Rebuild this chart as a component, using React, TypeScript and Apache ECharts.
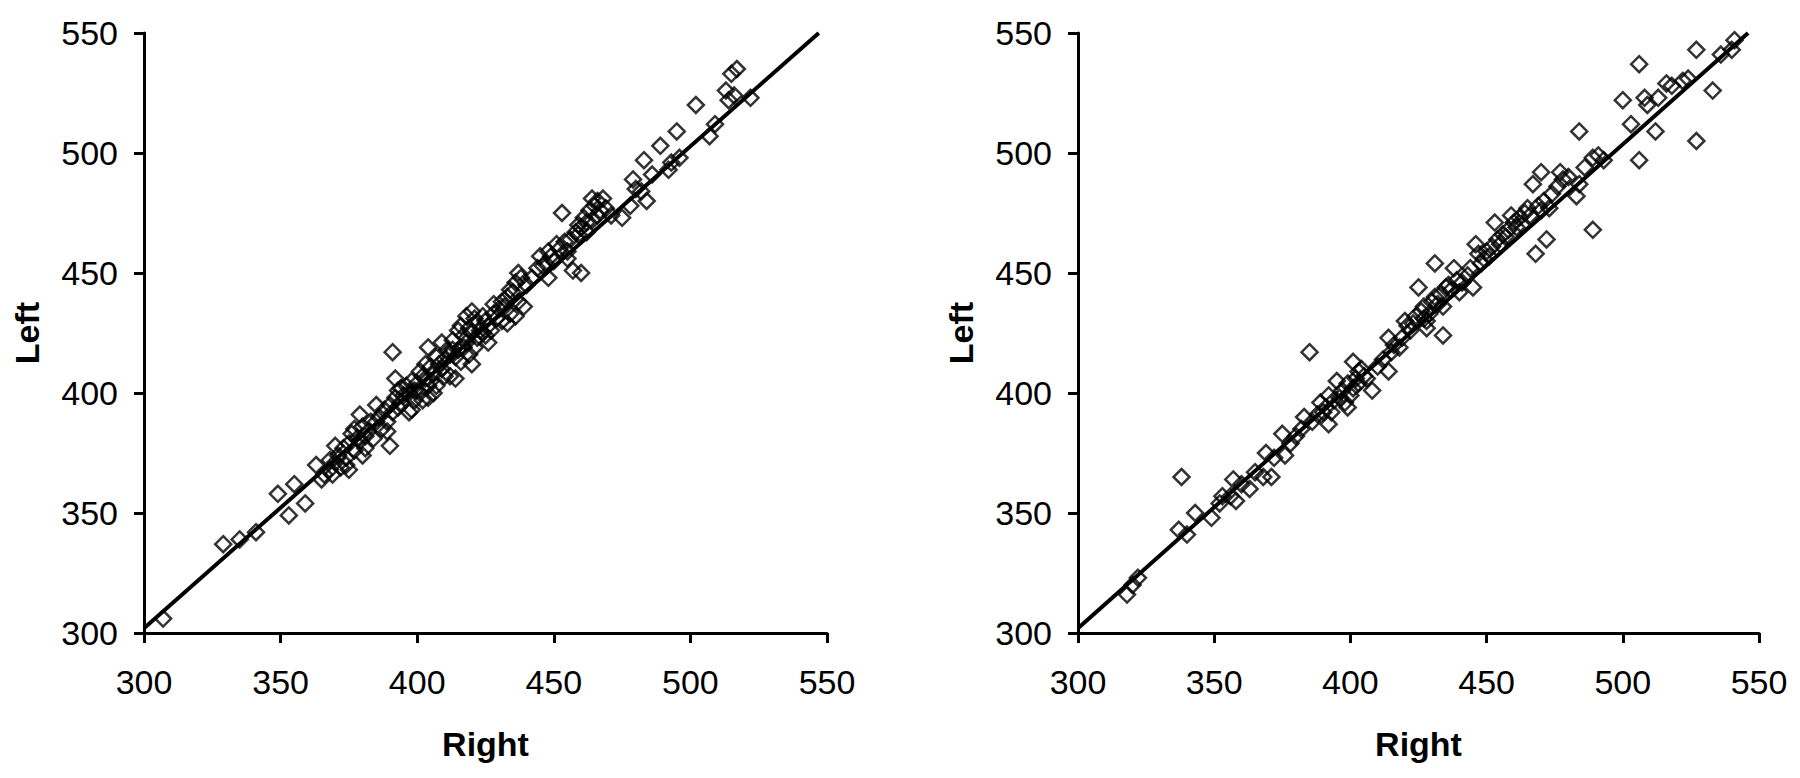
import React, { useEffect, useRef } from "react";
import * as echarts from "echarts";

// Left panel: [Right, Left]
const leftPanelPoints: number[][] = [
  [307,306],[329,337],[335,339],[341,342],[349,358],[353,349],[355,362],[359,354],[363,370],[365,364],
  [368,368],[370,378],[374,373],[375,368],[376,383],[379,391],[381,377],[382,384],[385,395],[387,385],
  [390,378],[391,417],[392,406],[393,394],[395,399],[397,392],[399,401],[401,409],[402,397],[404,403],
  [404,419],[405,411],[407,415],[409,421],[412,407],[414,406],[415,426],[417,419],[418,432],[420,434],
  [420,412],[422,423],[424,432],[426,421],[427,426],[431,438],[433,429],[435,442],[436,432],[437,450],
  [439,436],[444,452],[447,454],[448,448],[451,462],[453,475],[455,456],[457,451],[460,450],[459,466],
  [462,471],[464,481],[466,480],[467,476],[471,474],[475,473],[478,478],[479,489],[484,480],[483,497],
  [489,503],[492,493],[495,509],[496,498],[502,520],[507,507],[513,526],[515,533],[517,535],[516,524],
  [522,523],
  [366,366],[368,372],[370,371],[371,374],[372,369],[373,377],[375,379],[377,376],[378,381],[379,380],
  [380,386],[381,382],[383,388],[384,381],[386,390],[388,393],[389,388],[390,395],[391,392],[392,398],
  [393,401],[394,396],[396,403],[397,400],[398,405],[399,397],[400,404],[401,400],[402,407],[403,406],
  [404,398],[405,405],[406,408],[407,403],[408,412],[409,410],[410,414],[411,418],[412,416],[413,422],
  [414,415],[415,418],[416,413],[417,424],[418,421],[419,427],[420,425],[421,419],[422,429],[423,426],
  [424,425],[425,430],[426,428],[428,433],[429,431],[430,435],[432,436],[433,440],[434,433],[436,446],
  [438,448],[440,445],[442,448],[445,457],[446,453],[448,459],[449,457],[450,455],[452,460],[454,463],
  [455,459],[456,464],[458,467],[459,470],[460,469],[461,473],[462,467],[463,476],[464,472],[465,478],
  [466,474],[468,481],[469,477],[480,485],[482,484],[486,491],[493,496],[509,512],[514,522],
  [369,366],[374,370],[377,385],[380,374],[385,388],[389,384],[394,402],[398,393],[403,412],[406,400],
  [410,407],[413,418],[416,428],[419,416],[421,431],[425,424],[428,437],[431,430],[434,443],[437,438]
];

// Right panel: [Right, Left]
const rightPanelPoints: number[][] = [
  [318,316],[320,320],[337,343],[338,365],[343,350],[349,348],[353,357],[357,364],[358,355],[363,360],
  [368,365],[371,365],[369,375],[375,383],[376,374],[382,385],[383,390],[385,417],[390,392],[392,387],
  [394,397],[395,405],[399,394],[401,413],[401,402],[403,409],[406,406],[408,401],[414,409],[414,423],
  [418,419],[420,430],[425,444],[427,431],[428,427],[431,454],[432,437],[434,424],[435,444],[438,452],
  [440,442],[445,444],[446,462],[447,458],[448,454],[453,471],[454,464],[456,466],[459,474],[461,469],
  [467,487],[468,458],[470,492],[472,464],[473,477],[477,492],[483,482],[484,487],[489,468],[489,498],
  [491,499],[484,509],[500,522],[506,537],[506,497],[508,523],[512,509],[513,523],[516,529],[527,543],
  [527,505],[533,526],[522,530],[540,543],[541,547],
  [322,323],[340,341],[352,354],[356,357],[360,362],[365,367],[372,373],[378,379],[380,382],[386,388],
  [388,391],[389,396],[391,394],[392,399],[393,392],[396,398],[397,401],[398,396],[399,404],[400,399],
  [402,406],[403,404],[404,410],[405,407],[410,411],[412,414],[415,417],[416,420],[419,423],[421,428],
  [422,426],[423,429],[424,432],[426,434],[427,436],[428,430],[429,433],[430,438],[431,440],[433,441],
  [434,436],[436,445],[437,443],[439,447],[441,446],[443,449],[444,452],[449,456],[450,459],[451,457],
  [452,461],[455,462],[457,465],[458,468],[460,471],[462,473],[463,470],[464,475],[465,477],[466,474],
  [469,478],[470,476],[471,480],[474,483],[476,486],[478,489],[480,490],[486,494],[493,497],[503,512],
  [509,520],[518,528],[524,531],[536,541]
];

const leftFitLine: number[][] = [[300, 302], [547, 550]];
const rightFitLine: number[][] = [[300, 302], [546, 550]];

const axisTicks = { min: 300, max: 550, interval: 50 };
const xAxisTitle = "Right";
const yAxisTitle = "Left";

const FONT = "'Liberation Sans', Arial, sans-serif";

function makeX(gridIndex: number) {
  return {
    type: "value",
    gridIndex,
    ...axisTicks,
    name: xAxisTitle,
    nameLocation: "middle",
    nameGap: 94,
    nameTextStyle: { fontFamily: FONT, fontSize: 34, fontWeight: "bold", color: "#000" },
    axisLine: { show: true, onZero: false, lineStyle: { color: "#000", width: 3 } },
    axisTick: { show: true, inside: false, length: 10, lineStyle: { color: "#000", width: 3 } },
    axisLabel: { fontFamily: FONT, fontSize: 34, color: "#000", margin: 32 },
    splitLine: { show: false },
  };
}

function makeY(gridIndex: number) {
  return {
    type: "value",
    gridIndex,
    ...axisTicks,
    name: yAxisTitle,
    nameLocation: "middle",
    nameGap: 100,
    nameRotate: 90,
    nameTextStyle: { fontFamily: FONT, fontSize: 34, fontWeight: "bold", color: "#000" },
    axisLine: { show: true, onZero: false, lineStyle: { color: "#000", width: 3 } },
    axisTick: { show: true, inside: false, length: 10, lineStyle: { color: "#000", width: 3 } },
    axisLabel: { fontFamily: FONT, fontSize: 34, color: "#000", margin: 26 },
    splitLine: { show: false },
  };
}

function scatter(idx: number, data: number[][]) {
  return {
    type: "scatter",
    xAxisIndex: idx,
    yAxisIndex: idx,
    data,
    symbol: "diamond",
    symbolSize: 16,
    itemStyle: { color: "rgba(255,255,255,0)", borderColor: "#000", borderWidth: 2.5 },
    z: 2,
  };
}

function fit(idx: number, data: number[][]) {
  return {
    type: "line",
    xAxisIndex: idx,
    yAxisIndex: idx,
    data,
    showSymbol: false,
    symbol: "none",
    lineStyle: { color: "#000", width: 4 },
    clip: true,
    z: 3,
  };
}

export default function App() {
  const ref = useRef<HTMLDivElement>(null);
  useEffect(() => {
    if (!ref.current) return;
    const chart = echarts.init(ref.current, undefined, { renderer: "svg" });
    chart.setOption({
      animation: false,
      backgroundColor: "#fff",
      grid: [
        { left: 144, top: 33, width: 683, height: 600 },
        { left: 1078, top: 33, width: 681, height: 600 },
      ],
      xAxis: [makeX(0), makeX(1)],
      yAxis: [makeY(0), makeY(1)],
      series: [
        scatter(0, leftPanelPoints),
        fit(0, leftFitLine),
        scatter(1, rightPanelPoints),
        fit(1, rightFitLine),
      ],
    });
    return () => chart.dispose();
  }, []);
  return (
    <div
      ref={ref}
      style={{ position: "fixed", left: 0, top: 0, width: 1800, height: 778, background: "#fff" }}
    />
  );
}
